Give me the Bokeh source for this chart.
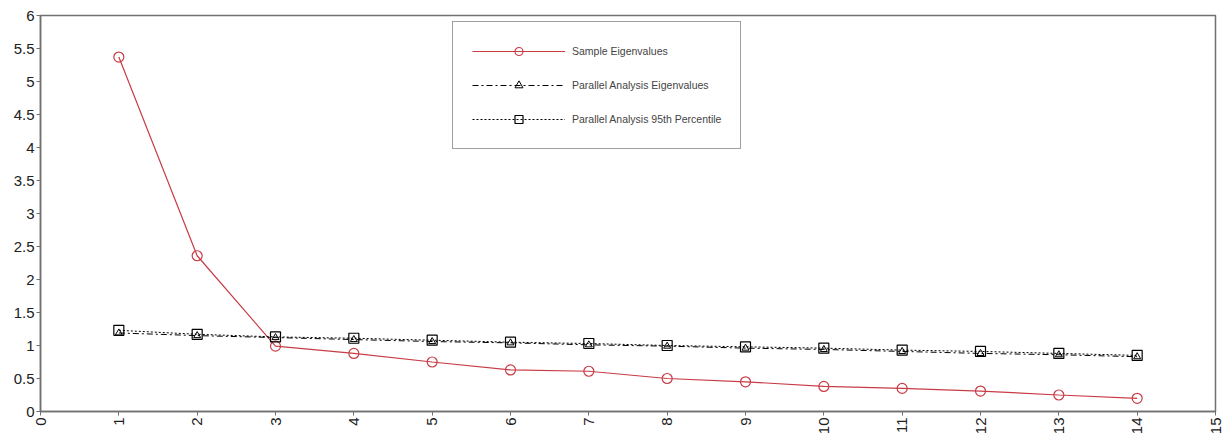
from bokeh.plotting import figure
from bokeh.models import Legend, LegendItem, FixedTicker, CustomJSTickFormatter, Range1d
from bokeh.embed import file_html
from bokeh.resources import INLINE
import math

factors = list(range(1, 15))
sample_eig = [5.37, 2.36, 0.99, 0.88, 0.75, 0.63, 0.61, 0.50, 0.45, 0.38, 0.35, 0.31, 0.25, 0.20]
pa_eig = [1.19, 1.15, 1.12, 1.09, 1.06, 1.04, 1.01, 0.99, 0.96, 0.94, 0.91, 0.88, 0.86, 0.83]
pa_95 = [1.23, 1.17, 1.13, 1.11, 1.08, 1.05, 1.03, 1.00, 0.98, 0.96, 0.93, 0.91, 0.88, 0.85]
x_ticks = list(range(0, 16))
y_ticks = [i * 0.5 for i in range(0, 13)]

RED = "#c83c46"
FONT = "Liberation Sans"
AXIS = "#707070"

p = figure(width=1222, height=437, output_backend="svg", toolbar_location=None,
           x_range=Range1d(0, 15), y_range=Range1d(0, 6),
           min_border_left=40, min_border_right=7, min_border_top=15, min_border_bottom=22)
p.grid.visible = False
p.outline_line_color = AXIS
p.outline_line_width = 1.5

fmt = CustomJSTickFormatter(code="return String(Math.round(tick*100)/100);")
for ax in (p.xaxis[0], p.yaxis[0]):
    ax.axis_line_color = AXIS
    ax.axis_line_width = 1.5
    ax.major_tick_line_color = AXIS
    ax.major_tick_in = 0
    ax.major_tick_out = 4
    ax.minor_tick_line_color = None
    ax.major_label_text_font = FONT
    ax.major_label_text_font_size = "15px"
    ax.major_label_text_color = "#202020"
    ax.formatter = fmt
p.xaxis.ticker = FixedTicker(ticks=x_ticks)
p.yaxis.ticker = FixedTicker(ticks=y_ticks)
p.xaxis.major_label_orientation = math.pi / 2
p.xaxis.major_label_standoff = 2
p.yaxis.major_label_standoff = 2

l1 = p.line(factors, sample_eig, line_color=RED, line_width=1.2)
m1 = p.scatter(factors, sample_eig, marker="circle", size=10, fill_color="white",
               fill_alpha=0, line_color=RED, line_width=1.2)
l2 = p.line(factors, pa_eig, line_color="black", line_width=1, line_dash="6 3 2 3")
m2 = p.scatter(factors, pa_eig, marker="triangle", size=7, fill_alpha=0,
               line_color="black", line_width=1)
l3 = p.line(factors, pa_95, line_color="black", line_width=1, line_dash="2 2")
m3 = p.scatter(factors, pa_95, marker="square", size=10, fill_alpha=0,
               line_color="black", line_width=1.2)

legend = Legend(items=[
    LegendItem(label="Sample Eigenvalues", renderers=[l1, m1]),
    LegendItem(label="Parallel Analysis Eigenvalues", renderers=[l2, m2]),
    LegendItem(label="Parallel Analysis 95th Percentile", renderers=[l3, m3]),
], location=(412, 262))
legend.glyph_width = 93
legend.glyph_height = 20
legend.label_height = 20
legend.spacing = 14
legend.padding = 19
legend.label_standoff = 7
legend.label_text_font = FONT
legend.label_text_font_size = "10.5px"
legend.border_line_color = "#404040"
legend.border_line_width = 1
legend.background_fill_alpha = 1
p.add_layout(legend)

open("out.html", "w").write(file_html(p, INLINE))
